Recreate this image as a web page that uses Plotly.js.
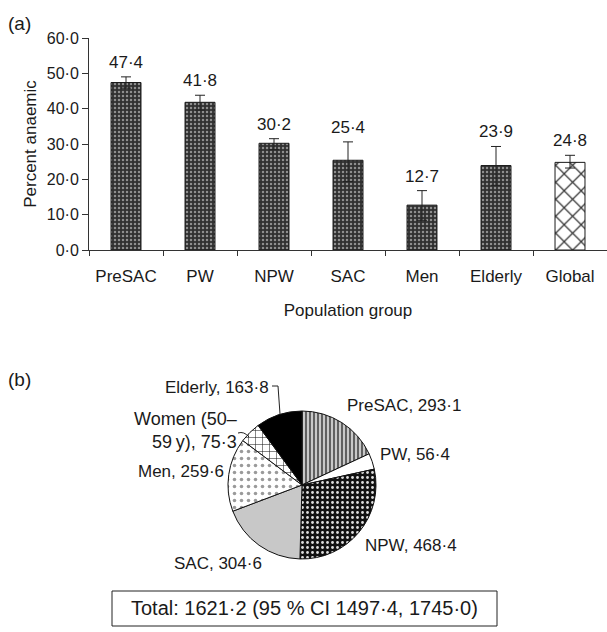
<!DOCTYPE html>
<html><head><meta charset="utf-8">
<script src="https://cdn.plot.ly/plotly-3.0.1.min.js"></script>
<style>html,body{margin:0;padding:0;background:#fff}</style>
</head><body><div id="chart" style="width:607px;height:632px"></div>
<script>
// ---- data ----
const categories = ['PreSAC', 'PW', 'NPW', 'SAC', 'Men', 'Elderly', 'Global'];
const percentAnaemic = [47.4, 41.8, 30.2, 25.4, 12.7, 23.9, 24.8];
const errorPlus = [1.6, 2.0, 1.3, 5.2, 4.1, 5.4, 2.0];
const errorMinus = [1.6, 2.2, 1.8, 6.0, 4.3, 5.6, 1.6];
const pieLabels = ['PreSAC', 'PW', 'NPW', 'SAC', 'Men', 'Women (50–<br>59\u2009y)', 'Elderly'];
const pieValues = [293.1, 56.4, 468.4, 304.6, 259.6, 75.3, 163.8];
const totalValue = 1621.2;
const ciLow = 1497.4;
const ciHigh = 1745.0;

const fmt = v => v.toFixed(1).replace('.', '\u00B7');
const W = 607, H = 632;
const px = x => x / W;
const py = y => 1 - y / H;
const FONT = 'Liberation Sans, Arial, Helvetica, sans-serif';
const TXT = '#1a1a1a';

const nGroups = categories.length - 1; // last one is Global
const errStyle = {color: '#222', thickness: 1, width: 5};

const groupTrace = {
  type: 'bar', x: categories.slice(0, nGroups), y: percentAnaemic.slice(0, nGroups),
  marker: {
    color: '#333333',
    line: {color: '#1a1a1a', width: 1},
    pattern: {shape: '.', fgcolor: '#8e8e8e', bgcolor: '#303030', size: 4, solidity: 0.3, fillmode: 'replace'}
  },
  error_y: Object.assign({type: 'data', symmetric: false,
    array: errorPlus.slice(0, nGroups), arrayminus: errorMinus.slice(0, nGroups)}, errStyle),
  hoverinfo: 'none'
};
const globalTrace = {
  type: 'bar', x: categories.slice(nGroups), y: percentAnaemic.slice(nGroups),
  marker: {
    color: '#ffffff',
    line: {color: '#1a1a1a', width: 1},
    pattern: {shape: 'x', fgcolor: '#3a3a3a', bgcolor: '#ffffff', size: 12, solidity: 0.2, fillmode: 'replace'}
  },
  error_y: Object.assign({type: 'data', symmetric: false,
    array: errorPlus.slice(nGroups), arrayminus: errorMinus.slice(nGroups)}, errStyle),
  hoverinfo: 'none'
};

const pieTrace = {
  type: 'pie', labels: pieLabels, values: pieValues, sort: false,
  direction: 'clockwise', rotation: 0, textinfo: 'none', hoverinfo: 'none',
  domain: {x: [px(228), px(376)], y: [py(559), py(411)]},
  marker: {
    colors: ['#b8b8b8', '#ffffff', '#111111', '#c8c8c8', '#ffffff', '#ffffff', '#000000'],
    line: {color: '#111', width: 1},
    pattern: {
      shape: ['|', '', '.', '', '.', '+', ''],
      fgcolor: ['#555555', '#000', '#dddddd', '#000', '#9a9a9a', '#222222', '#000'],
      bgcolor: ['#c8c8c8', '#ffffff', '#111111', '#c8c8c8', '#ffffff', '#ffffff', '#000000'],
      size: [4, 8, 5, 8, 7, 7, 8],
      solidity: [0.45, 0.3, 0.25, 0.3, 0.2, 0.15, 0.3],
      fillmode: 'replace'
    }
  },
  showlegend: false
};

const annotations = [];
categories.forEach((c, i) => {
  annotations.push({x: c, y: percentAnaemic[i] + errorPlus[i], xref: 'x', yref: 'y',
    text: fmt(percentAnaemic[i]), showarrow: false, yanchor: 'bottom', yshift: 3,
    font: {size: 17, color: TXT, family: FONT}});
});
annotations.push({x: px(6), y: py(24), xref: 'paper', yref: 'paper', text: '(a)', showarrow: false,
  xanchor: 'left', yanchor: 'middle', font: {size: 19, color: TXT, family: FONT}});
annotations.push({x: px(6), y: py(379), xref: 'paper', yref: 'paper', text: '(b)', showarrow: false,
  xanchor: 'left', yanchor: 'middle', font: {size: 19, color: TXT, family: FONT}});
const piePos = [
  {x: 345, y: 405, xa: 'left'},   // PreSAC
  {x: 378, y: 455, xa: 'left'},   // PW
  {x: 363, y: 545, xa: 'left'},   // NPW
  {x: 172, y: 563, xa: 'left'},   // SAC
  {x: 226, y: 471, xa: 'right'},  // Men
  {x: 239, y: 430, xa: 'right'},  // Women
  {x: 271, y: 387, xa: 'right'}   // Elderly
];
pieLabels.forEach((l, i) => {
  const p = piePos[i];
  const isWomen = l.indexOf('Women') === 0;
  annotations.push({x: px(p.x), y: py(p.y), xref: 'paper', yref: 'paper',
    text: l + ', ' + fmt(pieValues[i]), showarrow: false, xanchor: p.xa, yanchor: 'middle',
    align: 'right',
    font: {size: isWomen ? 18 : 17, color: TXT, family: FONT}});
});
annotations.push({x: px(304.5), y: py(608), xref: 'paper', yref: 'paper',
  text: 'Total: ' + fmt(totalValue) + ' (95 % CI ' + fmt(ciLow) + ', ' + fmt(ciHigh) + ')',
  showarrow: false, xanchor: 'center', yanchor: 'middle',
  font: {size: 20, color: TXT, family: FONT}});

const shapes = [
  {type: 'rect', xref: 'paper', yref: 'paper', x0: px(112), x1: px(497), y0: py(626), y1: py(591),
   line: {color: '#222', width: 1}, fillcolor: 'rgba(0,0,0,0)'},
  {type: 'path', xref: 'paper', yref: 'paper',
   path: `M ${px(272)} ${py(386)} L ${px(278)} ${py(386)} L ${px(280)} ${py(414)}`,
   line: {color: '#222', width: 1}},
  {type: 'path', xref: 'paper', yref: 'paper',
   path: `M ${px(238)} ${py(433)} Q ${px(244)} ${py(431)} ${px(249)} ${py(437)}`,
   line: {color: '#222', width: 1}}
];

const layout = {
  width: W, height: H, margin: {l: 0, r: 0, t: 0, b: 0},
  paper_bgcolor: '#fff', plot_bgcolor: '#fff', separators: '\u00B7,',
  font: {family: FONT, size: 16, color: TXT},
  showlegend: false, bargap: 0.595, barmode: 'overlay',
  xaxis: {domain: [px(89), 1], range: [-0.5, 6.5], type: 'category', categoryarray: categories,
    categoryorder: 'array', tickson: 'boundaries',
    ticks: 'outside', ticklen: 5, tickcolor: '#333', showline: true, linecolor: '#333', linewidth: 1,
    showgrid: false, zeroline: false, fixedrange: true, ticklabelstandoff: 11,
    tickfont: {size: 17, color: TXT, family: FONT},
    title: {text: 'Population group', standoff: 18, font: {size: 17, color: TXT, family: FONT}}},
  yaxis: {domain: [py(250), py(38)], range: [0, 60], dtick: 10, tickformat: '.1f',
    ticks: 'outside', ticklen: 6, tickcolor: '#333', showline: true, linecolor: '#333', linewidth: 1,
    showgrid: false, zeroline: false, fixedrange: true,
    tickfont: {size: 16, color: TXT, family: FONT},
    title: {text: 'Percent anaemic', standoff: 5, font: {size: 17, color: TXT, family: FONT}}},
  annotations: annotations, shapes: shapes
};

Plotly.newPlot('chart', [groupTrace, globalTrace, pieTrace], layout, {staticPlot: true, displayModeBar: false});
</script></body></html>
